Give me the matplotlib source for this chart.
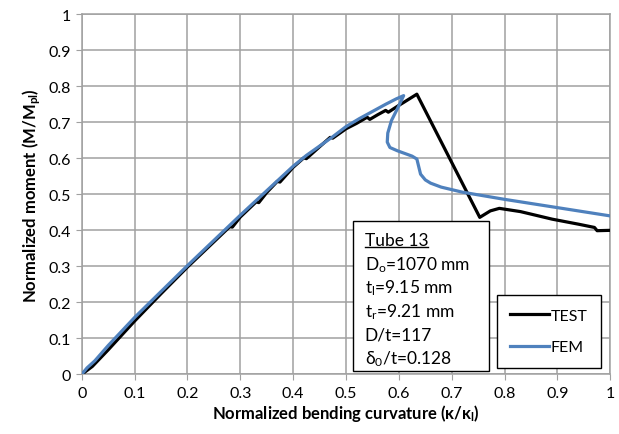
import matplotlib
matplotlib.use("Agg")
import matplotlib.pyplot as plt
from matplotlib.ticker import MultipleLocator, FuncFormatter
from matplotlib.lines import Line2D

plt.rcParams['font.family'] = ['Lato', 'DejaVu Sans']
plt.rcParams['mathtext.fontset'] = 'custom'
plt.rcParams['mathtext.rm'] = 'Lato'
plt.rcParams['mathtext.it'] = 'Lato:italic'
plt.rcParams['mathtext.bf'] = 'Lato:bold'

# test curve (black)
test_x = [0, 0.02, 0.05, 0.1, 0.15, 0.2, 0.25, 0.28, 0.285, 0.3, 0.33, 0.335,
          0.35, 0.37, 0.375, 0.4, 0.42, 0.425, 0.45, 0.47, 0.475, 0.5,
          0.52, 0.54, 0.545, 0.56, 0.575, 0.58, 0.6, 0.61, 0.634,
          0.753, 0.773, 0.79, 0.83, 0.89, 0.94, 0.97, 0.975, 1.0]
test_y = [0, 0.022, 0.068, 0.148, 0.224, 0.298, 0.368, 0.41, 0.409, 0.437, 0.479, 0.477,
          0.505, 0.536, 0.534, 0.575, 0.601, 0.599, 0.632, 0.658, 0.656, 0.682,
          0.697, 0.714, 0.708, 0.721, 0.733, 0.728, 0.747, 0.756, 0.778,
          0.436, 0.454, 0.461, 0.452, 0.431, 0.417, 0.408, 0.399, 0.40]

# FEM curve (blue)
fem_x = [0, 0.01, 0.025, 0.05, 0.1, 0.15, 0.2, 0.25, 0.3, 0.35, 0.4, 0.425, 0.45,
         0.475, 0.5, 0.525, 0.55, 0.575, 0.595, 0.609,
         0.598, 0.586, 0.579, 0.578, 0.583, 0.597, 0.625, 0.634, 0.637, 0.641,
         0.65, 0.66, 0.68, 0.72, 0.8, 0.9, 1.0]
fem_y = [0, 0.018, 0.038, 0.08, 0.158, 0.23, 0.302, 0.372, 0.442, 0.51, 0.578, 0.608, 0.634,
         0.66, 0.688, 0.71, 0.73, 0.75, 0.765, 0.774,
         0.74, 0.705, 0.67, 0.645, 0.630, 0.621, 0.606, 0.598, 0.58, 0.556,
         0.54, 0.531, 0.52, 0.506, 0.486, 0.463, 0.44]

info_lines = ["Tube 13", r"D$_\mathrm{o}$=1070 mm", r"t$_\mathrm{l}$=9.15 mm",
              r"t$_\mathrm{r}$=9.21 mm", "D/t=117", r"δ$_\mathrm{0}$/t=0.128"]

fig = plt.figure(figsize=(6.19, 4.35), dpi=100)
ax = fig.add_axes([0.132, 0.137, 0.854, 0.828])

ax.plot(test_x, test_y, color='black', lw=2.3, label='TEST', zorder=3)
ax.plot(fem_x, fem_y, color='#4f81bd', lw=2.3, label='FEM', zorder=4)

ax.set_xlim(0, 1)
ax.set_ylim(0, 1)
ax.xaxis.set_major_locator(MultipleLocator(0.1))
ax.yaxis.set_major_locator(MultipleLocator(0.1))
fmt = FuncFormatter(lambda v, p: '%g' % round(v, 2))
ax.xaxis.set_major_formatter(fmt)
ax.yaxis.set_major_formatter(fmt)
ax.grid(True, color='#a0a0a0', lw=1.1)
ax.set_axisbelow(True)
for s in ax.spines.values():
    s.set_color('#a0a0a0')
    s.set_linewidth(1.1)
ax.tick_params(direction='out', length=4, color='#a0a0a0', labelsize=11.5, pad=4)

ax.set_xlabel(r"Normalized bending curvature (κ/κ$_\mathbf{l}$)", fontsize=12,
              fontweight='bold', labelpad=2)
ax.set_ylabel(r"Normalized moment (M/M$_\mathbf{pl}$)", fontsize=12,
              fontweight='bold', labelpad=4)

# info box
box = plt.Rectangle((0.513, 0.01), 0.257, 0.415, transform=ax.transAxes,
                    facecolor='white', edgecolor='black', lw=1.0, zorder=5)
ax.add_patch(box)
texts = []
for i, line in enumerate(info_lines):
    t = ax.text(0.535, 0.372 - i * 0.0655, line, transform=ax.transAxes,
                fontsize=12.5, va='center', ha='left', zorder=6)
    texts.append(t)

leg = ax.legend(loc='lower right', bbox_to_anchor=(0.982, 0.018), fontsize=11.5,
                frameon=True, fancybox=False, edgecolor='black', framealpha=1,
                handlelength=2.4, handletextpad=0.1, labelspacing=1.1,
                borderpad=0.85, borderaxespad=0)
leg.get_frame().set_linewidth(1.0)
leg.set_zorder(7)

# underline the title of the info box
fig.canvas.draw()
bb = texts[0].get_window_extent()
fig.add_artist(Line2D([bb.x0, bb.x1], [bb.y0 + 1, bb.y0 + 1], transform=None,
                      color='black', lw=1.0, zorder=8))

fig.savefig("out.png", dpi=100)
